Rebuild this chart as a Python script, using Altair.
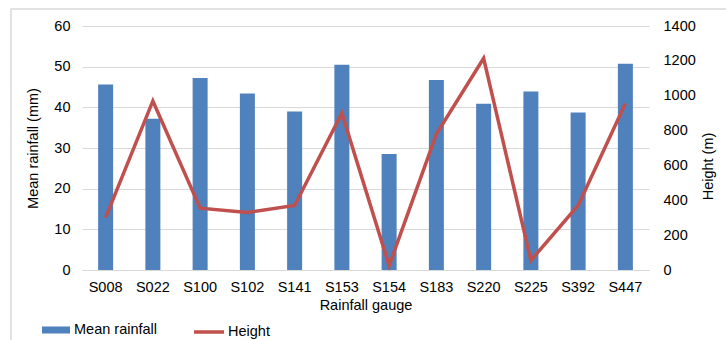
import altair as alt
import pandas as pd

gauges = ["S008", "S022", "S100", "S102", "S141", "S153", "S154", "S183", "S220", "S225", "S392", "S447"]
mean_rainfall = [45.6, 37.2, 47.2, 43.4, 39.0, 50.5, 28.5, 46.7, 40.9, 43.9, 38.7, 50.7]
height_m = [300, 970, 355, 330, 370, 900, 25, 780, 1215, 55, 370, 955]

df = pd.DataFrame({
    "gauge": gauges,
    "rain": mean_rainfall,
    "height": height_m,
    "s1": "Mean rainfall",
    "s2": "Height",
})

FONT = "Liberation Sans"
GRID = "#d9d9d9"
FS = 14.5

x_enc = alt.X(
    "gauge:N", sort=gauges, title="Rainfall gauge",
    scale=alt.Scale(paddingInner=0.0, paddingOuter=0.0),
    axis=alt.Axis(labelAngle=0, domain=True, domainColor=GRID, ticks=False,
                  labelPadding=10, titlePadding=5, labelFontSize=FS, titleFontSize=FS),
)

border = alt.Chart(pd.DataFrame({"a": [0]})).mark_rect(
    fill=None, stroke="#d9d9d9", strokeWidth=1.5
).encode(
    x=alt.value(-71), x2=alt.value(700), y=alt.value(-17), y2=alt.value(400)
)

bars = alt.Chart(df).mark_bar(size=15, color="#4f81bd").encode(
    x=x_enc,
    y=alt.Y("rain:Q", title="Mean rainfall (mm)",
            scale=alt.Scale(domain=[0, 60]),
            axis=alt.Axis(values=[0, 10, 20, 30, 40, 50, 60], grid=True, gridColor=GRID,
                          domain=False, ticks=False, labelPadding=12, titlePadding=13,
                          labelFontSize=FS, titleFontSize=FS)),
    color=alt.Color("s1:N", scale=alt.Scale(domain=["Mean rainfall"], range=["#4f81bd"]),
                    legend=alt.Legend(title=None, orient="none", legendX=-40, legendY=290,
                                      symbolType="M-1,-0.25H1V0.25H-1Z", symbolSize=784,
                                      symbolStrokeWidth=0, labelFontSize=FS, labelOffset=4)),
)

line = alt.Chart(df).mark_line(strokeWidth=3.5, color="#c0504d").encode(
    x=alt.X("gauge:N", sort=gauges),
    y=alt.Y("height:Q", title="Height (m)",
            scale=alt.Scale(domain=[0, 1400]),
            axis=alt.Axis(orient="right", values=[0, 200, 400, 600, 800, 1000, 1200, 1400],
                          format="d", grid=False, domain=False, ticks=False, labelPadding=14,
                          titlePadding=20, titleAngle=-90, titleY=140,
                          labelFontSize=FS, titleFontSize=FS)),
    stroke=alt.Stroke("s2:N", scale=alt.Scale(domain=["Height"], range=["#c0504d"]),
                      legend=alt.Legend(title=None, orient="none", legendX=110, legendY=289,
                                        symbolType="stroke", symbolSize=900,
                                        symbolStrokeWidth=3.5, labelFontSize=FS, labelOffset=2)),
)

chart = alt.layer(border, bars, line).resolve_scale(y="independent").properties(
    width=567, height=244,
    autosize=alt.AutoSizeParams(type="none"),
    padding={"left": 82, "top": 26, "right": 77, "bottom": 70},
).configure(font=FONT).configure_view(stroke=None).configure_axis(
    labelColor="#000000", titleColor="#000000", labelFont=FONT, titleFont=FONT,
    titleFontWeight="normal"
).configure_legend(labelFont=FONT, labelColor="#000000", padding=0)

chart.save("out.html", embed_options={"renderer": "svg", "actions": False})
